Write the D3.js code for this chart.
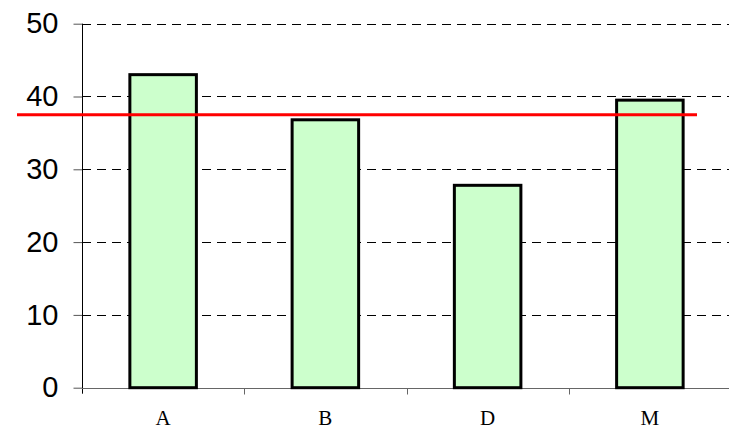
<!DOCTYPE html>
<html>
<head>
<meta charset="utf-8">
<script src="https://cdn.jsdelivr.net/npm/d3@7"></script>
<style>
  body { margin: 0; background: #fff; }
  svg { display: block; }
</style>
</head>
<body>
<div id="chart"></div>
<script>
// chart values
const CATEGORIES = ['A', 'B', 'D', 'M'];
const VALUES = [43.0, 36.8, 27.8, 39.5];
const Y_TICKS = [0, 10, 20, 30, 40, 50];
const REFERENCE = [37.5];

const WIDTH = 729, HEIGHT = 428;
const MARGIN = { top: 23.7, right: -2, bottom: 40.3, left: 82 };

const svg = d3.select('#chart')
    .append('svg')
    .attr('width', WIDTH)
    .attr('height', HEIGHT);

const x = d3.scaleBand()
    .domain(CATEGORIES)
    .range([MARGIN.left, WIDTH - MARGIN.right])
    .paddingInner(0.59)
    .paddingOuter(0.295);

const y = d3.scaleLinear()
    .domain([0, 50])
    .range([HEIGHT - MARGIN.bottom, MARGIN.top]);

// dashed gridlines
svg.append('g')
    .selectAll('line')
    .data(Y_TICKS.filter(d => d > 0))
    .enter().append('line')
    .attr('x1', MARGIN.left)
    .attr('x2', WIDTH)
    .attr('y1', d => Math.round(y(d)) + 0.5)
    .attr('y2', d => Math.round(y(d)) + 0.5)
    .attr('stroke', '#000')
    .attr('stroke-dasharray', '9,6');

// y axis
const yAxis = svg.append('g')
    .attr('transform', `translate(${MARGIN.left + 0.5},0)`)
    .call(d3.axisLeft(y).tickValues(Y_TICKS).tickSize(9).tickPadding(15).tickSizeOuter(0));
yAxis.select('.domain').remove();
yAxis.selectAll('.tick line').attr('stroke', '#555');
yAxis.selectAll('.tick text')
    .attr('font-family', 'Liberation Sans, Arial, sans-serif')
    .attr('font-size', 29)
    .attr('fill', '#000');

svg.append('line')
    .attr('x1', MARGIN.left + 0.5)
    .attr('x2', MARGIN.left + 0.5)
    .attr('y1', y(50))
    .attr('y2', y(0) + 6)
    .attr('stroke', '#000');

// x axis with ticks between categories
const xAxis = svg.append('g')
    .attr('transform', `translate(0,${Math.round(y(0)) + 0.5})`);
xAxis.append('line')
    .attr('x1', MARGIN.left)
    .attr('x2', WIDTH)
    .attr('stroke', '#666');
const step = x.step();
xAxis.selectAll('.sep')
    .data(CATEGORIES.slice(1))
    .enter().append('line')
    .attr('class', 'sep')
    .attr('x1', d => Math.round(x(d) - x.paddingInner() * step / 2) + 0.5)
    .attr('x2', d => Math.round(x(d) - x.paddingInner() * step / 2) + 0.5)
    .attr('y1', 0)
    .attr('y2', 6)
    .attr('stroke', '#666');
xAxis.selectAll('text')
    .data(CATEGORIES)
    .enter().append('text')
    .attr('x', d => x(d) + x.bandwidth() / 2)
    .attr('y', 36)
    .attr('text-anchor', 'middle')
    .attr('font-family', 'Liberation Serif, Times New Roman, serif')
    .attr('font-size', 21)
    .text(d => d);

// bars
svg.append('g')
    .selectAll('rect')
    .data(VALUES)
    .enter().append('rect')
    .attr('x', (d, i) => x(CATEGORIES[i]))
    .attr('y', d => y(d))
    .attr('width', x.bandwidth())
    .attr('height', d => y(0) - y(d))
    .attr('fill', '#CCFFCC')
    .attr('stroke', '#000')
    .attr('stroke-width', 3);

// reference line
svg.append('g')
    .selectAll('line')
    .data(REFERENCE)
    .enter().append('line')
    .attr('x1', 17)
    .attr('x2', 697)
    .attr('y1', d => y(d))
    .attr('y2', d => y(d))
    .attr('stroke', '#FF0000')
    .attr('stroke-width', 3);
</script>
</body>
</html>
